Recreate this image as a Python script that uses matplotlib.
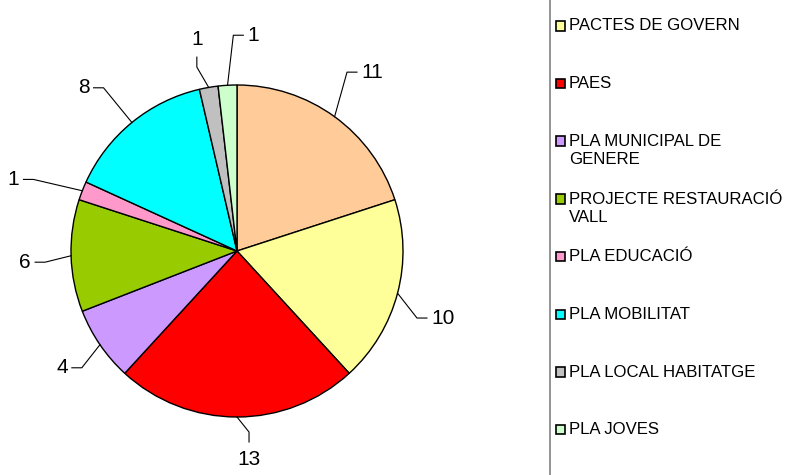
import numpy as np
import matplotlib
matplotlib.use("Agg")
import matplotlib.pyplot as plt
from matplotlib.patches import Rectangle

plt.rcParams['font.family'] = ['Liberation Sans', 'DejaVu Sans']

# slices, clockwise from 12 o'clock
values = [11, 10, 13, 4, 6, 1, 8, 1, 1]
colors = ['#FFCC99', '#FFFF99', '#FF0000', '#CC99FF', '#99CC00',
          '#FF99CC', '#00FFFF', '#C0C0C0', '#CCFFCC']

# legend entries visible in the picture (first entry is cut off at the top)
legend_labels = ['PACTES DE GOVERN', 'PAES', 'PLA MUNICIPAL DE\nGENERE',
                 'PROJECTE RESTAURACIÓ\nVALL', 'PLA EDUCACIÓ', 'PLA MOBILITAT',
                 'PLA LOCAL HABITATGE', 'PLA JOVES']
legend_colors = colors[1:]

# leader line layout: elbow radius, angle tweak, tick direction and side
lab_r = [1.265, 1.157, 1.093, 1.17, 1.158, 1.30, 1.27, 1.134, 1.30]
lab_da = [-4.4, 5.7, -3.8, -2.6, -1.7, -1.9, 0.0, -2.5, 2.3]
lab_dir = ['h', 'h', 'v', 'h', 'h', 'h', 'h', 'v', 'h']
lab_side = [1, 1, -1, -1, -1, -1, -1, 1, 1]

W, H = 787, 475
cx, cy, R = 237, 251, 166

fig = plt.figure(figsize=(W / 100, H / 100), dpi=100)
fig.patch.set_facecolor('white')

ax = fig.add_axes([0, 0, 1, 1])
ax.pie(values, colors=colors, startangle=90, counterclock=False, radius=1,
       wedgeprops=dict(edgecolor='black', linewidth=1.0))
ax.set_xlim(-cx / R, (W - cx) / R)
ax.set_ylim(-(H - cy) / R, cy / R)
ax.set_aspect('equal')
ax.axis('off')

total = sum(values)
start = 0.0
for i, v in enumerate(values):
    span = v / total * 360
    mid = start + span / 2
    start += span
    t = np.radians(mid)
    ex, ey = np.sin(t), np.cos(t)
    t2 = np.radians(mid + lab_da[i])
    bx, by = lab_r[i] * np.sin(t2), lab_r[i] * np.cos(t2)
    s = lab_side[i]
    if lab_dir[i] == 'h':
        tx, ty = bx + s * 0.06, by
        ax.plot([ex, bx, tx], [ey, by, ty], color='black', lw=0.8)
        ax.text(tx + s * 0.025, ty, str(v), ha='left' if s > 0 else 'right',
                va='center', fontsize=15)
    else:
        tx, ty = bx, by + s * 0.06
        ax.plot([ex, bx, tx], [ey, by, ty], color='black', lw=0.8)
        ax.text(tx, ty + s * 0.05, str(v), ha='center',
                va='bottom' if s > 0 else 'top', fontsize=15)

# legend drawn in pixel coordinates
lax = fig.add_axes([0, 0, 1, 1])
lax.set_xlim(0, W)
lax.set_ylim(H, 0)
lax.axis('off')
lax.patch.set_alpha(0)

lax.plot([550, 550], [0, H], color='#808080', lw=1.2)

row0, step = 26, 57.7
for i, (lab, col) in enumerate(zip(legend_labels, legend_colors)):
    y = row0 + i * step
    lax.add_patch(Rectangle((555.5, y - 5), 9.5, 9.5, facecolor=col,
                            edgecolor='black', lw=1.2))
    for j, line in enumerate(lab.split('\n')):
        lax.text(569, y + j * 18, line, ha='left', va='center',
                 fontsize=12.1)

fig.savefig('out.png', dpi=100)
